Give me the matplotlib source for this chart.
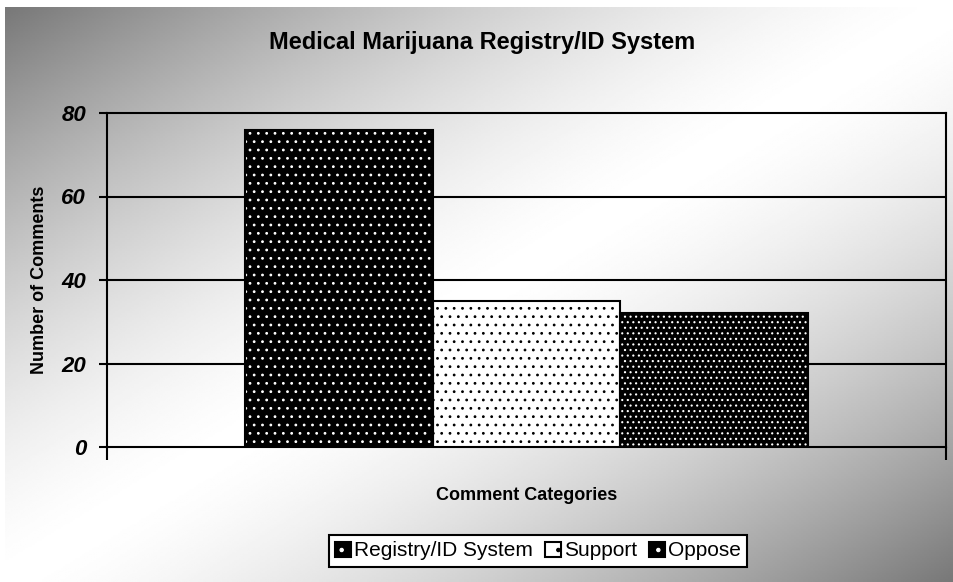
import numpy as np
import matplotlib
matplotlib.use("Agg")
import matplotlib.pyplot as plt
from matplotlib.patches import Patch

plt.rcParams['font.family'] = ['Liberation Sans', 'DejaVu Sans']
plt.rcParams['hatch.linewidth'] = 0.8

# data
title = "Medical Marijuana Registry/ID System"
series = ["Registry/ID System", "Support", "Oppose"]
counts = [76, 35, 32]
faces = ["black", "white", "black"]
dots = ["white", "black", "white"]
hatches = ["..", "..", "..."]
yticks = [0, 20, 40, 60, 80]

fig = plt.figure(figsize=(9.54, 5.82), dpi=100)

# diagonal grey-white-grey background
bg = fig.add_axes([5/954, 0, 949/954, 575/582], zorder=-5)
gx, gy = np.meshgrid(np.linspace(0, 1, 400), np.linspace(0, 1, 300))
t = np.abs(gx + gy - 1.0)
shade = 1.0 - 0.53 * t ** 1.5
bg.imshow(shade, cmap='gray', vmin=0, vmax=1, aspect='auto', extent=[0, 1, 1, 0])
bg.axis('off')

ax = fig.add_axes([107/954, 1 - 447/582, 839/954, 334/582])
ax.patch.set_alpha(0)

group = 0.67
w = group / len(series)
start = 0.5 - group / 2
handles = []
for i, (name, val) in enumerate(zip(series, counts)):
    x = start + w * (i + 0.5)
    ax.bar(x, val, width=w, color=faces[i], edgecolor=dots[i], hatch=hatches[i],
           linewidth=0, zorder=3)
    ax.bar(x, val, width=w, fill=False, edgecolor='black', linewidth=1.5, zorder=4)
    hp = Patch(facecolor=faces[i], edgecolor=dots[i], hatch='.', linewidth=0)
    op = Patch(fill=False, edgecolor='black', linewidth=1.5)
    handles.append((hp, op))

ax.set_xlim(0, 1)
ax.set_ylim(0, 80)
ax.set_yticks(yticks)
ax.set_yticklabels([str(v) for v in yticks], fontsize=16, fontweight='bold', fontstyle='italic')
ax.set_xticks([0, 1])
ax.set_xticklabels([])
ax.tick_params(axis='y', direction='out', length=6, width=1.5, pad=9)
ax.tick_params(axis='x', direction='out', length=9, width=1.5)
for s in ax.spines.values():
    s.set_linewidth(1.5)
    s.set_color('black')
for v in yticks[1:-1]:
    ax.axhline(v, color='black', linewidth=1.5, zorder=1)

fig.text(0.505, 1 - 42/582, title, ha='center', va='center', fontsize=17, fontweight='bold')
fig.text(40/954, 1 - 280/582, "Number of Comments", rotation=90, ha='center', va='center',
         fontsize=13, fontweight='bold')
fig.text(527/954, 1 - 495/582, "Comment Categories", ha='center', va='center',
         fontsize=13, fontweight='bold')

leg = fig.legend(handles, series, loc='center', bbox_to_anchor=(538/954, 1 - 551/582),
                 ncol=3, fontsize=15, frameon=True, fancybox=False, handlelength=0.75,
                 handleheight=0.75, handletextpad=0.15, columnspacing=0.6, borderpad=0.3)
leg.get_frame().set_edgecolor('black')
leg.get_frame().set_linewidth(1.5)
leg.get_frame().set_facecolor('white')
leg.get_frame().set_alpha(1)

fig.savefig("out.png", dpi=100)
